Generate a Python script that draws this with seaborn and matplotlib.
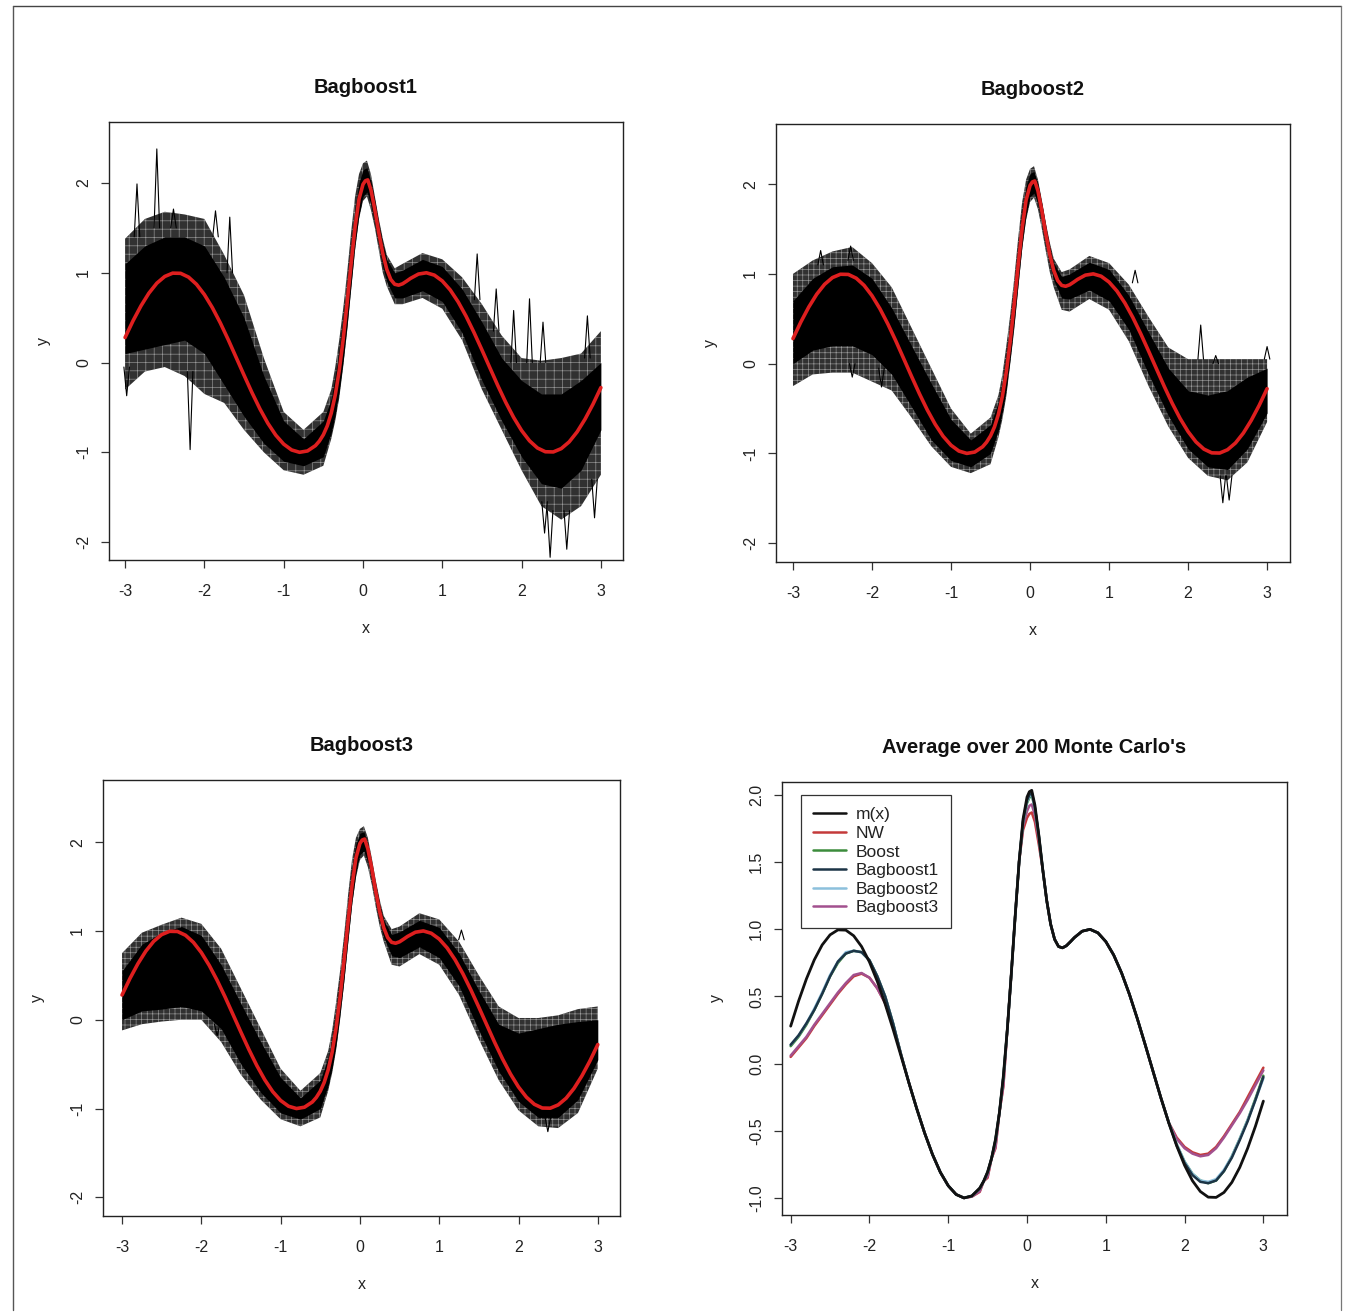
import matplotlib
matplotlib.use("Agg")
import matplotlib.pyplot as plt
import seaborn as sns
from matplotlib.lines import Line2D

sns.set_theme(style="ticks")
plt.rcParams['font.family'] = ['Liberation Sans', 'DejaVu Sans']
plt.rcParams['hatch.linewidth'] = 0.45

# ---------------- data ----------------
# true regression function m(x) (red curve in panels 1-3, black in panel 4)
M_X = [-3.0, -2.9, -2.8, -2.7, -2.6, -2.5, -2.4, -2.3, -2.2, -2.1, -2.0, -1.9, -1.8,
       -1.7, -1.6, -1.5, -1.4, -1.3, -1.2, -1.1, -1.0, -0.9, -0.8, -0.7, -0.6,
       -0.55, -0.5, -0.45, -0.4, -0.35, -0.3, -0.25, -0.2, -0.15, -0.1, -0.05, 0.0,
       0.03, 0.06, 0.1, 0.15, 0.2, 0.25, 0.3, 0.35, 0.4, 0.45, 0.5, 0.55, 0.6,
       0.7, 0.8, 0.9, 1.0, 1.1, 1.2, 1.3, 1.4, 1.5, 1.6, 1.7, 1.8, 1.9, 2.0,
       2.1, 2.2, 2.3, 2.4, 2.5, 2.6, 2.7, 2.8, 2.9, 3.0]
M_Y = [0.279, 0.465, 0.631, 0.773, 0.884, 0.959, 0.996, 0.994, 0.952, 0.872, 0.757, 0.612, 0.443,
       0.256, 0.058, -0.141, -0.335, -0.516, -0.676, -0.809, -0.909, -0.974, -1.000, -0.985, -0.926,
       -0.875, -0.805, -0.705, -0.563, -0.363, -0.091, 0.256, 0.665, 1.100, 1.506, 1.822, 1.985,
       2.025, 2.035, 1.925, 1.700, 1.444, 1.215, 1.038, 0.926, 0.872, 0.862, 0.878, 0.907, 0.938,
       0.986, 1.000, 0.974, 0.909, 0.809, 0.676, 0.516, 0.335, 0.141, -0.058, -0.256, -0.443, -0.612, -0.757,
       -0.872, -0.952, -0.994, -0.996, -0.959, -0.884, -0.773, -0.631, -0.465, -0.279]

# envelope grid for the 200 Monte Carlo fits (black bands)
XE = [-3.0, -2.75, -2.5, -2.25, -2.0, -1.75, -1.5, -1.25, -1.0, -0.75, -0.5, -0.4, -0.35,
      -0.3, -0.25, -0.2, -0.15, -0.1, -0.05, 0.0, 0.05, 0.1, 0.15, 0.2, 0.25, 0.3, 0.4,
      0.5, 0.75, 1.0, 1.25, 1.5, 1.75, 2.0, 2.25, 2.5, 2.75, 3.0]

# Bagboost1
B1_OUT_HI = [1.38, 1.60, 1.68, 1.65, 1.60, 1.20, 0.75, 0.05, -0.55, -0.75, -0.55, -0.30, -0.05,
             0.25, 0.60, 1.00, 1.45, 1.85, 2.10, 2.22, 2.25, 2.10, 1.85, 1.60, 1.38, 1.20, 1.05,
             1.10, 1.22, 1.15, 0.95, 0.65, 0.30, 0.05, 0.02, 0.05, 0.10, 0.35]
B1_OUT_LO = [-0.30, -0.10, -0.05, -0.15, -0.35, -0.45, -0.75, -1.00, -1.20, -1.25, -1.15, -0.85, -0.65,
             -0.40, -0.05, 0.35, 0.80, 1.25, 1.60, 1.80, 1.85, 1.70, 1.50, 1.25, 1.00, 0.85, 0.65,
             0.65, 0.72, 0.60, 0.25, -0.30, -0.75, -1.20, -1.60, -1.75, -1.60, -1.25]
B1_CORE_HI = [1.10, 1.30, 1.40, 1.40, 1.30, 0.95, 0.50, -0.15, -0.65, -0.85, -0.65, -0.40, -0.15,
              0.15, 0.50, 0.90, 1.32, 1.72, 2.00, 2.15, 2.17, 2.02, 1.80, 1.55, 1.32, 1.15, 1.00,
              1.03, 1.15, 1.07, 0.82, 0.45, 0.05, -0.20, -0.35, -0.35, -0.20, 0.00]
B1_CORE_LO = [0.10, 0.15, 0.20, 0.25, 0.10, -0.25, -0.60, -0.90, -1.10, -1.15, -1.05, -0.78, -0.58,
              -0.32, 0.02, 0.42, 0.88, 1.32, 1.65, 1.85, 1.90, 1.76, 1.55, 1.30, 1.07, 0.90, 0.72,
              0.72, 0.80, 0.68, 0.33, -0.20, -0.65, -1.05, -1.35, -1.40, -1.20, -0.75]
# isolated spikes: position, base value, tip value
B1_SPIKE_X = [-2.98, -2.85, -2.60, -2.39, -2.18, -1.86, -1.68, 1.44, 1.68, 1.90, 2.10, 2.27, 2.83,
              2.29, 2.36, 2.57, 2.92]
B1_SPIKE_BASE = [-0.05, 1.40, 1.50, 1.50, -0.10, 1.40, 1.00, 0.70, 0.35, 0.00, 0.00, 0.00, 0.05,
                 -1.55, -1.65, -1.65, -1.30]
B1_SPIKE_TIP = [-0.37, 1.99, 2.38, 1.71, -0.97, 1.69, 1.62, 1.21, 0.82, 0.58, 0.71, 0.45, 0.52,
                -1.90, -2.17, -2.08, -1.73]

# Bagboost2
B2_OUT_HI = [1.00, 1.15, 1.25, 1.30, 1.12, 0.85, 0.40, -0.05, -0.50, -0.78, -0.60, -0.35, -0.12,
             0.20, 0.55, 0.95, 1.40, 1.80, 2.05, 2.17, 2.20, 2.05, 1.82, 1.57, 1.35, 1.17, 1.02,
             1.05, 1.20, 1.12, 0.88, 0.52, 0.18, 0.05, 0.05, 0.05, 0.05, 0.05]
B2_OUT_LO = [-0.25, -0.12, -0.10, -0.10, -0.20, -0.30, -0.60, -0.92, -1.15, -1.22, -1.12, -0.82, -0.62,
             -0.36, 0.00, 0.38, 0.83, 1.27, 1.60, 1.80, 1.85, 1.72, 1.50, 1.25, 1.02, 0.85, 0.60,
             0.58, 0.72, 0.60, 0.25, -0.25, -0.70, -1.05, -1.25, -1.30, -1.10, -0.65]
B2_CORE_HI = [0.70, 0.95, 1.08, 1.10, 0.95, 0.62, 0.20, -0.22, -0.62, -0.85, -0.68, -0.42, -0.20,
              0.12, 0.47, 0.87, 1.32, 1.72, 1.98, 2.12, 2.14, 2.00, 1.78, 1.53, 1.30, 1.12, 0.97,
              1.00, 1.13, 1.05, 0.76, 0.35, -0.05, -0.30, -0.35, -0.30, -0.15, -0.05]
B2_CORE_LO = [0.00, 0.15, 0.20, 0.20, 0.10, -0.12, -0.48, -0.85, -1.08, -1.15, -1.00, -0.74, -0.54,
              -0.28, 0.07, 0.46, 0.90, 1.33, 1.66, 1.86, 1.90, 1.78, 1.57, 1.32, 1.10, 0.93, 0.73,
              0.72, 0.82, 0.70, 0.38, -0.12, -0.58, -0.95, -1.15, -1.18, -0.95, -0.55]
B2_SPIKE_X = [-2.65, -2.27, -1.88, -2.25, 1.33, 2.16, 2.35, 3.00, 2.44, 2.52]
B2_SPIKE_BASE = [1.10, 1.15, -0.05, 0.00, 0.90, 0.05, 0.00, 0.05, -1.25, -1.25]
B2_SPIKE_TIP = [1.26, 1.31, -0.26, -0.15, 1.04, 0.43, 0.09, 0.19, -1.55, -1.52]

# Bagboost3
B3_OUT_HI = [0.75, 0.98, 1.07, 1.15, 1.08, 0.80, 0.35, -0.10, -0.55, -0.80, -0.60, -0.35, -0.12,
             0.20, 0.55, 0.95, 1.40, 1.80, 2.05, 2.15, 2.18, 2.05, 1.82, 1.57, 1.35, 1.17, 1.02,
             1.05, 1.20, 1.13, 0.88, 0.50, 0.15, 0.02, 0.02, 0.05, 0.12, 0.15]
B3_OUT_LO = [-0.12, -0.05, -0.02, 0.00, 0.00, -0.25, -0.62, -0.90, -1.12, -1.20, -1.10, -0.80, -0.60,
             -0.34, 0.00, 0.40, 0.85, 1.28, 1.60, 1.80, 1.85, 1.72, 1.52, 1.27, 1.05, 0.88, 0.62,
             0.60, 0.74, 0.62, 0.28, -0.22, -0.68, -1.02, -1.20, -1.22, -1.05, -0.55]
B3_CORE_HI = [0.55, 0.85, 0.98, 1.05, 0.95, 0.62, 0.18, -0.25, -0.65, -0.88, -0.68, -0.42, -0.20,
              0.12, 0.47, 0.87, 1.32, 1.72, 1.98, 2.10, 2.12, 1.98, 1.76, 1.52, 1.30, 1.12, 0.96,
              0.99, 1.12, 1.04, 0.75, 0.33, -0.05, -0.15, -0.10, -0.05, -0.02, 0.00]
B3_CORE_LO = [0.00, 0.10, 0.12, 0.15, 0.10, -0.10, -0.50, -0.82, -1.05, -1.12, -1.00, -0.74, -0.54,
              -0.28, 0.07, 0.46, 0.90, 1.33, 1.66, 1.86, 1.90, 1.78, 1.57, 1.32, 1.10, 0.93, 0.72,
              0.70, 0.82, 0.70, 0.38, -0.12, -0.58, -0.92, -1.10, -1.10, -0.90, -0.45]
B3_SPIKE_X = [-1.80, 1.28, 2.37]
B3_SPIKE_BASE = [-0.05, 0.90, -1.10]
B3_SPIKE_TIP = [-0.18, 1.01, -1.26]

# Average over 200 Monte Carlo's: estimates differ from m(x) only where listed
EST_LEFT_X = [-3.0, -2.9, -2.8, -2.7, -2.6, -2.5, -2.4, -2.3, -2.2, -2.1, -2.0, -1.9, -1.8, -1.7, -1.6]
EST_PEAK_X = [-0.05, 0.0, 0.03, 0.06, 0.1, 0.15]
EST_RISE_X = [-0.7, -0.6, -0.5, -0.4, -0.3]
EST_RIGHT_X = [1.8, 1.9, 2.0, 2.1, 2.2, 2.3, 2.4, 2.5, 2.6, 2.7, 2.8, 2.9, 3.0]

NW_LEFT = [0.05, 0.12, 0.19, 0.28, 0.36, 0.44, 0.52, 0.59, 0.65, 0.67, 0.64, 0.56, 0.45, 0.29, 0.07]
NW_PEAK = [1.74, 1.83, 1.86, 1.87, 1.80, 1.63]
NW_RISE = [-0.99, -0.955, -0.85, -0.63, -0.17]
NW_RIGHT = [-0.44, -0.55, -0.62, -0.66, -0.68, -0.67, -0.62, -0.54, -0.45, -0.36, -0.25, -0.14, -0.03]

BOOST_LEFT = [0.13, 0.20, 0.29, 0.40, 0.52, 0.65, 0.75, 0.82, 0.84, 0.83, 0.77, 0.65, 0.50, 0.30, 0.07]
BOOST_PEAK = [1.80, 1.94, 1.98, 2.00, 1.90, 1.69]
BOOST_RISE = [-0.985, -0.93, -0.81, -0.57, -0.10]
BOOST_RIGHT = [-0.44, -0.60, -0.73, -0.82, -0.87, -0.89, -0.87, -0.80, -0.69, -0.56, -0.42, -0.26, -0.09]

BAG1_LEFT = [0.14, 0.21, 0.30, 0.40, 0.52, 0.65, 0.76, 0.82, 0.84, 0.83, 0.77, 0.65, 0.50, 0.30, 0.07]
BAG1_PEAK = [1.81, 1.96, 2.00, 2.02, 1.91, 1.70]
BAG1_RISE = [-0.985, -0.93, -0.81, -0.57, -0.10]
BAG1_RIGHT = [-0.44, -0.61, -0.74, -0.83, -0.88, -0.89, -0.87, -0.80, -0.70, -0.57, -0.43, -0.27, -0.10]

BAG2_LEFT = [0.14, 0.21, 0.30, 0.41, 0.53, 0.66, 0.76, 0.83, 0.84, 0.83, 0.77, 0.65, 0.50, 0.30, 0.07]
BAG2_PEAK = [1.80, 1.95, 1.99, 2.01, 1.90, 1.69]
BAG2_RISE = [-0.985, -0.93, -0.81, -0.57, -0.10]
BAG2_RIGHT = [-0.44, -0.60, -0.73, -0.82, -0.87, -0.88, -0.86, -0.79, -0.69, -0.56, -0.42, -0.27, -0.11]

BAG3_LEFT = [0.06, 0.13, 0.20, 0.29, 0.37, 0.45, 0.53, 0.60, 0.66, 0.675, 0.64, 0.56, 0.45, 0.29, 0.07]
BAG3_PEAK = [1.77, 1.88, 1.92, 1.93, 1.85, 1.66]
BAG3_RISE = [-0.99, -0.95, -0.84, -0.62, -0.16]
BAG3_RIGHT = [-0.44, -0.56, -0.63, -0.67, -0.69, -0.68, -0.63, -0.55, -0.46, -0.37, -0.27, -0.16, -0.05]

EST_NAMES = ["NW", "Boost", "Bagboost1", "Bagboost2", "Bagboost3"]
EST_COLORS = {"m(x)": "#111111", "NW": "#c43a3a", "Boost": "#3c8c3c", "Bagboost1": "#1c3446",
              "Bagboost2": "#8cc0dc", "Bagboost3": "#a2508e"}

X_TICKS = [-3, -2, -1, 0, 1, 2, 3]
X_TICK_LABELS = ["-3", "-2", "-1", "0", "1", "2", "3"]
Y_TICKS_A = [-2, -1, 0, 1, 2]
Y_TICK_LABELS_A = ["-2", "-1", "0", "1", "2"]
Y_TICKS_B = [-1.0, -0.5, 0.0, 0.5, 1.0, 1.5, 2.0]
Y_TICK_LABELS_B = ["-1.0", "-0.5", "0.0", "0.5", "1.0", "1.5", "2.0"]
RED = "#de1f1f"


def assemble(left, peak, rise, right):
    vals = dict(zip(M_X, M_Y))
    for xs, ys in ((EST_LEFT_X, left), (EST_PEAK_X, peak), (EST_RISE_X, rise), (EST_RIGHT_X, right)):
        for a, b in zip(xs, ys):
            vals[a] = b
    return [vals[a] for a in M_X]


EST = {
    "NW": assemble(NW_LEFT, NW_PEAK, NW_RISE, NW_RIGHT),
    "Boost": assemble(BOOST_LEFT, BOOST_PEAK, BOOST_RISE, BOOST_RIGHT),
    "Bagboost1": assemble(BAG1_LEFT, BAG1_PEAK, BAG1_RISE, BAG1_RIGHT),
    "Bagboost2": assemble(BAG2_LEFT, BAG2_PEAK, BAG2_RISE, BAG2_RIGHT),
    "Bagboost3": assemble(BAG3_LEFT, BAG3_PEAK, BAG3_RISE, BAG3_RIGHT),
}

# ---------------- figure ----------------
W, H = 1351, 1316
fig = plt.figure(figsize=(W / 100, H / 100), dpi=100)
fig.patch.set_facecolor("white")


def add_axes(l, t, r, b):
    return fig.add_axes([l / W, 1 - b / H, (r - l) / W, (b - t) / H])


def style(ax, xlim, ylim, yticks, ylabels, title, box):
    l, t, r, b = box
    ax.set_xlim(xlim)
    ax.set_ylim(ylim)
    ax.set_xticks(X_TICKS)
    ax.set_xticklabels(X_TICK_LABELS, fontsize=11.5, color="#222222")
    ax.set_yticks(yticks)
    ax.set_yticklabels(ylabels, rotation=90, va="center", fontsize=11.5, color="#222222")
    ax.tick_params(axis="x", direction="out", length=6, width=0.9, color="#333333", pad=11)
    ax.tick_params(axis="y", direction="out", length=6, width=0.9, color="#333333", pad=7)
    for s in ax.spines.values():
        s.set_color("#222222")
        s.set_linewidth(1.0)
    ax.set_title(title, fontweight="bold", fontsize=14.5, pad=21, color="#111111")
    ax.set_xlabel("x", fontsize=11.5, color="#222222")
    ax.set_ylabel("y", fontsize=11.5, color="#222222")
    ax.xaxis.set_label_coords(0.5, -61 / (b - t))
    ax.yaxis.set_label_coords(-58 / (r - l), 0.5)


def mc_panel(ax, out_hi, out_lo, core_hi, core_lo, sx, sb, st, hatch):
    # outer fringe of the 200 fits: dark with light gaps between the individual lines
    ax.fill_between(XE, out_lo, out_hi, facecolor=(0.05, 0.05, 0.05, 0.85),
                    edgecolor=(1, 1, 1, 0.5), hatch=hatch, lw=0, zorder=1)
    ax.fill_between(XE, core_lo, core_hi, color="black", lw=0, zorder=2)
    for a, b0, c in zip(sx, sb, st):
        ax.plot([a - 0.035, a, a + 0.035], [b0, c, b0], color="black", lw=0.8, zorder=2)
    sns.lineplot(x=M_X, y=M_Y, ax=ax, color=RED, lw=2.6, estimator=None, sort=False, zorder=3)


# panel 1
box1 = (109, 122, 623, 560)
ax1 = add_axes(*box1)
mc_panel(ax1, B1_OUT_HI, B1_OUT_LO, B1_CORE_HI, B1_CORE_LO, B1_SPIKE_X, B1_SPIKE_BASE, B1_SPIKE_TIP, "++")
style(ax1, (-3.203, 3.279), (-2.20, 2.68), Y_TICKS_A, Y_TICK_LABELS_A, "Bagboost1", box1)

# panel 2
box2 = (776, 124, 1290, 562)
ax2 = add_axes(*box2)
mc_panel(ax2, B2_OUT_HI, B2_OUT_LO, B2_CORE_HI, B2_CORE_LO, B2_SPIKE_X, B2_SPIKE_BASE, B2_SPIKE_TIP, "+++")
style(ax2, (-3.215, 3.29), (-2.21, 2.67), Y_TICKS_A, Y_TICK_LABELS_A, "Bagboost2", box2)

# panel 3
box3 = (103, 780, 620, 1216)
ax3 = add_axes(*box3)
mc_panel(ax3, B3_OUT_HI, B3_OUT_LO, B3_CORE_HI, B3_CORE_LO, B3_SPIKE_X, B3_SPIKE_BASE, B3_SPIKE_TIP, "+++")
style(ax3, (-3.24, 3.28), (-2.21, 2.70), Y_TICKS_A, Y_TICK_LABELS_A, "Bagboost3", box3)

# panel 4
box4 = (782, 782, 1287, 1215)
ax4 = add_axes(*box4)
for name in ["NW", "Bagboost3", "Boost", "Bagboost2", "Bagboost1"]:
    sns.lineplot(x=M_X, y=EST[name], ax=ax4, color=EST_COLORS[name], lw=1.8,
                 estimator=None, sort=False, zorder=2)
sns.lineplot(x=M_X, y=M_Y, ax=ax4, color=EST_COLORS["m(x)"], lw=2.0, estimator=None, sort=False, zorder=3)
style(ax4, (-3.11, 3.30), (-1.127, 2.097), Y_TICKS_B, Y_TICK_LABELS_B, "Average over 200 Monte Carlo's", box4)
handles = [Line2D([0], [0], color=EST_COLORS[n], lw=1.8) for n in ["m(x)"] + EST_NAMES]
leg = ax4.legend(handles, ["m(x)"] + EST_NAMES, loc="upper left", bbox_to_anchor=(0.0376, 0.970),
                 borderaxespad=0, fontsize=12.5, frameon=True, fancybox=False, framealpha=1,
                 edgecolor="#333333", labelspacing=0.2, handlelength=1.9, handletextpad=0.55,
                 borderpad=0.7)
leg.get_frame().set_linewidth(0.9)
for txt in leg.get_texts():
    txt.set_color("#222222")

# scanned page border
fig.add_artist(Line2D([13 / W, 1341 / W], [1 - 6 / H, 1 - 6 / H], color="#444444", lw=1.0))
fig.add_artist(Line2D([13 / W, 13 / W], [1 - 6 / H, 1 - 1310 / H], color="#555555", lw=1.0))
fig.add_artist(Line2D([1341 / W, 1341 / W], [1 - 6 / H, 1 - 1310 / H], color="#777777", lw=0.9))

fig.savefig("out.png", dpi=100, facecolor="white")
